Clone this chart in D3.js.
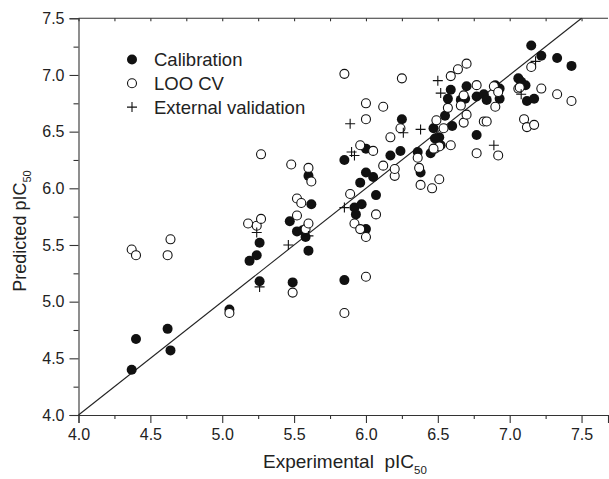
<!DOCTYPE html>
<html><head><meta charset="utf-8">
<script src="https://cdn.jsdelivr.net/npm/d3@7"></script>
<style>body{margin:0;background:#fff}svg{display:block;font-family:"Liberation Sans",Arial,Helvetica,sans-serif}</style>
</head><body>
<svg id="c" width="609" height="479"></svg>
<script>
// Calibration (filled circles)
const calX=[4.37,4.40,4.62,4.64,5.05,5.19,5.24,5.26,5.26,5.49,5.47,5.52,5.56,5.58,5.60,5.62,5.60,5.85,5.85,5.92,5.93,5.96,5.97,6.00,6.00,6.00,6.05,6.07,6.17,6.24,6.25,6.36,6.38,6.45,6.47,6.51,6.52,6.55,6.57,6.59,6.60,6.66,6.69,6.70,6.77,6.77,6.82,6.84,6.90,6.93,6.93,7.06,7.08,7.11,7.12,7.17,7.15,7.22,7.33,7.43,6.48];
const calY=[4.40,4.67,4.76,4.57,4.93,5.36,5.41,5.52,5.18,5.17,5.71,5.62,5.63,5.57,6.11,5.86,5.45,6.25,5.19,5.83,5.77,6.05,5.86,5.64,6.14,6.35,6.10,5.94,6.29,6.33,6.61,6.32,6.14,6.31,6.53,6.45,6.38,6.64,6.79,6.87,6.55,6.78,6.79,6.90,6.81,6.47,6.83,6.78,6.91,6.79,6.88,6.97,6.94,6.91,6.77,6.79,7.26,7.17,7.15,7.08,6.44];
// LOO CV (open circles)
const looX=[4.37,4.40,4.62,4.64,5.05,5.18,5.24,5.27,5.27,5.48,5.49,5.52,5.55,5.52,5.58,5.60,5.62,5.60,5.85,5.85,5.89,5.92,5.96,5.96,6.00,6.00,6.00,6.00,6.05,6.07,6.12,6.12,6.17,6.20,6.20,6.25,6.24,6.36,6.37,6.38,6.46,6.51,6.48,6.49,6.51,6.54,6.57,6.59,6.59,6.64,6.66,6.68,6.68,6.70,6.70,6.77,6.77,6.82,6.84,6.89,6.90,6.92,6.92,7.06,7.07,7.10,7.12,7.15,7.17,7.22,7.33,7.43,6.47];
const looY=[5.46,5.41,5.41,5.55,4.90,5.69,5.67,5.73,6.30,6.21,5.08,5.91,5.87,5.76,5.64,6.18,6.06,5.69,7.01,4.90,5.95,5.69,6.38,5.64,6.75,6.61,5.57,5.22,6.33,5.77,6.20,6.72,6.45,6.11,6.17,6.97,6.53,6.27,6.18,6.03,6.00,6.08,6.35,6.60,6.37,6.53,6.71,6.99,6.38,7.05,6.73,6.82,6.58,6.65,7.10,6.91,6.31,6.59,6.59,6.90,6.72,6.85,6.29,6.88,6.89,6.61,6.54,7.07,6.56,6.88,6.83,6.77,6.35];
// External validation (plus)
const extX=[5.24,5.26,5.46,5.60,5.85,5.89,5.90,5.92,6.26,6.38,6.50,6.52,6.89,7.08,7.18];
const extY=[5.61,5.13,5.50,5.58,5.83,6.57,6.32,6.29,6.49,6.52,6.95,6.84,6.38,6.83,7.12];
// Ticks
const xMajor=[4.0,4.5,5.0,5.5,6.0,6.5,7.0,7.5];
const xMinor=[4.25,4.75,5.25,5.75,6.25,6.75,7.25];
const yMajor=[4.0,4.5,5.0,5.5,6.0,6.5,7.0,7.5];
const yMinor=[4.25,4.75,5.25,5.75,6.25,6.75,7.25];
const legendLabels=["Calibration","LOO CV","External validation"];

const svg=d3.select("#c");
const x=d3.scaleLinear().domain([4.0,7.684]).range([78.5,608]);
const y=d3.scaleLinear().domain([4.0,7.5]).range([415,18.3]);
const axisCol="#333";
const fmt=d3.format(".1f");

function style(g){
  g.select(".domain").attr("stroke",axisCol).attr("stroke-width",1.1);
  g.selectAll(".tick line").attr("stroke",axisCol).attr("stroke-width",1.1);
  g.selectAll(".tick text").attr("fill","#222").attr("font-size",16).attr("font-family","Liberation Sans, Arial, sans-serif");
}
// x axis
svg.append("g").attr("transform",`translate(0,${y(4)})`)
  .call(d3.axisBottom(x).tickValues(xMajor).tickSize(8).tickPadding(6).tickFormat(fmt)).call(style);
svg.append("g").attr("transform",`translate(0,${y(4)})`)
  .call(d3.axisBottom(x).tickValues(xMinor).tickSize(4).tickFormat("")).call(style)
  .select(".domain").remove();
// top line with small ticks
svg.append("g").attr("transform",`translate(0,${y(7.5)})`)
  .call(d3.axisTop(x).tickValues(xMajor.concat(xMinor)).tickSize(-3).tickFormat("")).call(style)
  .selectAll(".domain").attr("d",`M${x.range()[0]},0H${x.range()[1]}`);
// y axis
svg.append("g").attr("transform",`translate(${x(4)},0)`)
  .call(d3.axisLeft(y).tickValues(yMajor).tickSize(9).tickPadding(5).tickFormat(fmt)).call(style);
svg.append("g").attr("transform",`translate(${x(4)},0)`)
  .call(d3.axisLeft(y).tickValues(yMinor).tickSize(5).tickFormat("")).call(style)
  .select(".domain").remove();

// diagonal y = x
svg.append("line").attr("x1",x(4)).attr("y1",y(4)).attr("x2",x(7.5)).attr("y2",y(7.5))
  .attr("stroke","#222").attr("stroke-width",1.1);

const r=5;
const cal=calX.map((v,i)=>[v,calY[i]]);
const loo=looX.map((v,i)=>[v,looY[i]]);
const ext=extX.map((v,i)=>[v,extY[i]]);

svg.append("g").selectAll("circle").data(cal).join("circle")
  .attr("cx",d=>x(d[0])).attr("cy",d=>y(d[1])).attr("r",r).attr("fill","#111");
svg.append("g").selectAll("circle").data(loo).join("circle")
  .attr("cx",d=>x(d[0])).attr("cy",d=>y(d[1])).attr("r",r-0.5).attr("fill","#fff").attr("stroke","#111").attr("stroke-width",1.1);
const ps=5;
svg.append("g").selectAll("path").data(ext).join("path")
  .attr("d",d=>`M${x(d[0])-ps},${y(d[1])}H${x(d[0])+ps}M${x(d[0])},${y(d[1])-ps}V${y(d[1])+ps}`)
  .attr("stroke","#111").attr("stroke-width",1.1).attr("fill","none");

// legend
const lg=svg.append("g");
const lx=132, ly0=59.5, dy=23.8;
lg.append("circle").attr("cx",lx).attr("cy",ly0).attr("r",r).attr("fill","#111");
lg.append("circle").attr("cx",lx).attr("cy",ly0+dy).attr("r",r-0.5).attr("fill","#fff").attr("stroke","#111").attr("stroke-width",1.1);
lg.append("path").attr("d",`M${lx-ps},${ly0+2*dy}H${lx+ps}M${lx},${ly0+2*dy-ps}V${ly0+2*dy+ps}`).attr("stroke","#111").attr("stroke-width",1.1);
lg.selectAll("text").data(legendLabels).join("text")
  .attr("x",154).attr("y",(d,i)=>ly0+i*dy).attr("dy","0.36em")
  .attr("font-size",18.5).attr("fill","#222").text(d=>d);

// axis titles
const xt=svg.append("text").attr("x",263).attr("y",468).attr("text-anchor","start").attr("font-size",19).attr("fill","#222");
xt.append("tspan").text("Experimental\u00a0\u00a0pIC");
xt.append("tspan").attr("font-size",11.5).attr("dy",6).text("50");
const yt=svg.append("text").attr("transform","translate(26,231) rotate(-90)").attr("text-anchor","middle").attr("font-size",18).attr("fill","#222");
yt.append("tspan").text("Predicted pIC");
yt.append("tspan").attr("font-size",11).attr("dy",5).text("50");
</script>
</body></html>
